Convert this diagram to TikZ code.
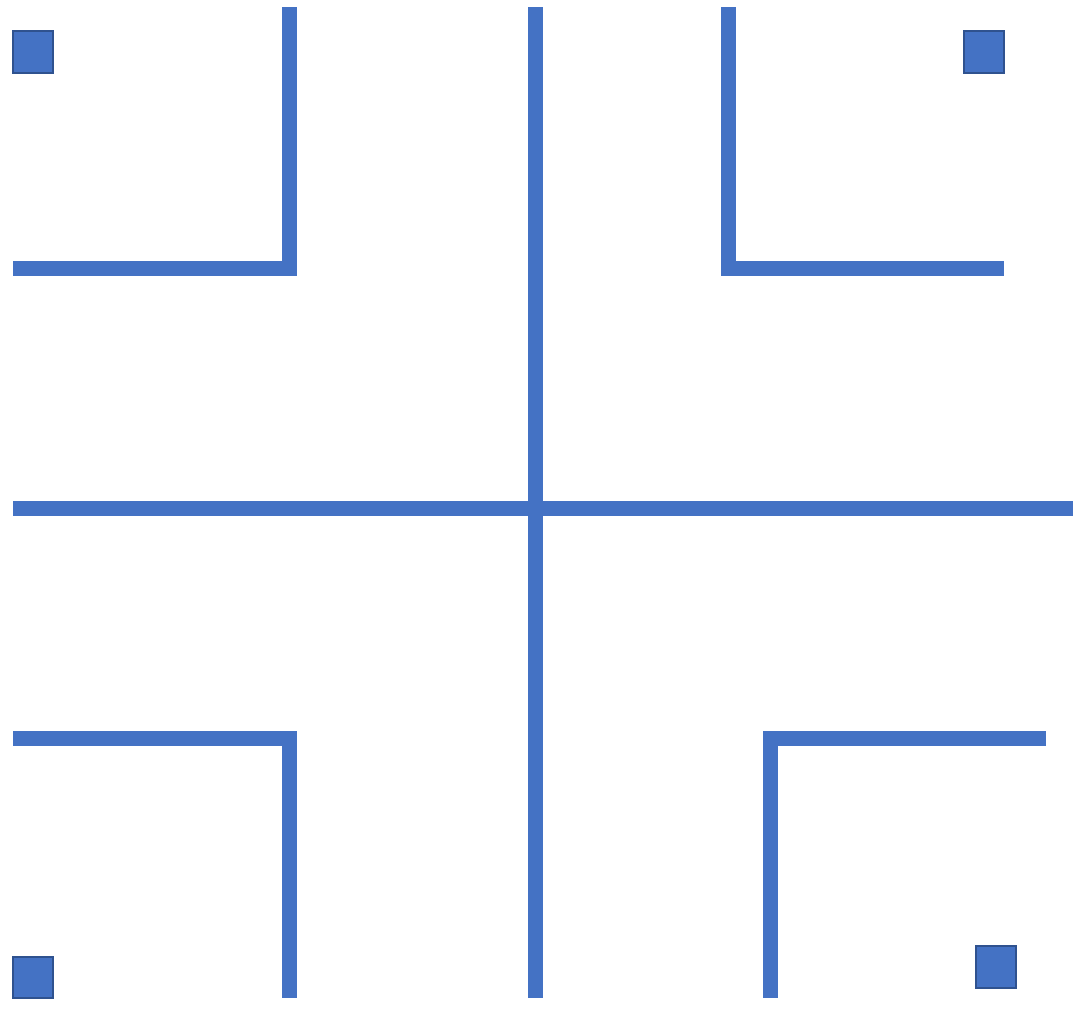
\documentclass[tikz,border=0pt]{standalone}
\usepackage{xcolor}
\usepackage{tikz}
\definecolor{wallblue}{HTML}{4472C4}
\definecolor{postedge}{HTML}{2F528F}

\begin{document}
\begin{tikzpicture}[x=0.02cm,y=-0.02cm,
  wall/.style={draw=wallblue,line width=0.3cm,line join=miter,line cap=butt},
  post/.style={fill=wallblue,draw=postedge,line width=0.04cm}]
  \useasboundingbox (0,0) rectangle (1076,1009);
  % centre cross
  \draw[wall] (535,7) -- (535,998);
  \draw[wall] (13,508) -- (1073,508);
  % corner walls
  \draw[wall] (13,268) -- (289,268) -- (289,7);
  \draw[wall] (728,7) -- (728,268) -- (1004,268);
  \draw[wall] (13,738) -- (289,738) -- (289,998);
  \draw[wall] (1046,738) -- (770,738) -- (770,998);
  % posts
  \draw[post] (13,31) rectangle (53,73);
  \draw[post] (964,31) rectangle (1004,73);
  \draw[post] (13,957) rectangle (53,998);
  \draw[post] (976,946) rectangle (1016,988);
\end{tikzpicture}
\end{document}
